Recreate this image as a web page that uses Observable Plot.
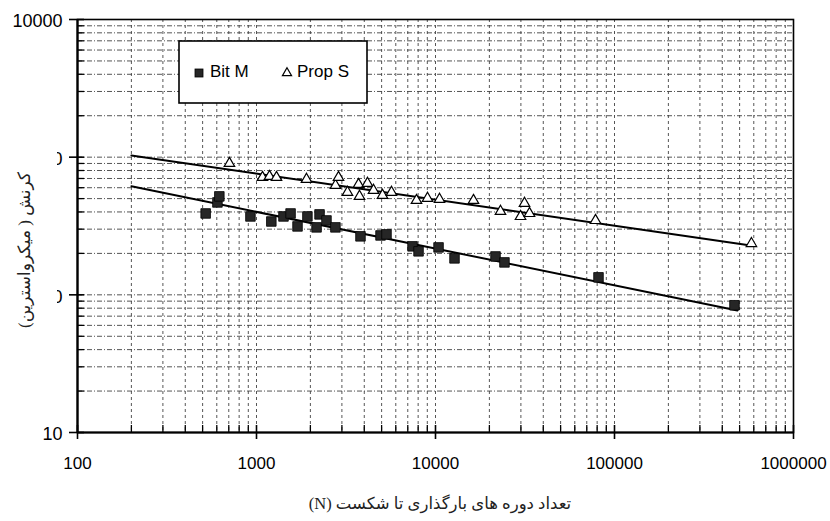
<!DOCTYPE html>
<html><head><meta charset="utf-8">
<script src="https://cdn.jsdelivr.net/npm/d3@7"></script>
<script src="https://cdn.jsdelivr.net/npm/@observablehq/plot@0.6"></script>
<style>
body{margin:0;background:#fff;}
#chart{position:relative;width:830px;height:521px;}
</style></head><body><div id="chart"></div>
<script>
// ---- data ----
const seriesNames = ["Bit M", "Prop S"];
const bitM_N = [520, 605, 620, 925, 1210, 1415, 1550, 1695, 1925, 2165, 2250, 2460, 2760, 3810, 4930, 5325, 7440, 8040, 10400, 12770, 21640, 24280, 81400, 468000];
const bitM_strain = [390, 469, 519, 371, 341, 371, 390, 314, 371, 309, 384, 347, 309, 266, 270, 275, 225, 207, 221, 184, 190, 172, 134, 84];
const propS_N = [706, 1080, 1182, 1293, 1902, 2762, 2871, 3223, 3715, 3762, 4169, 4505, 5058, 5677, 7830, 9023, 10530, 16300, 23070, 29850, 31420, 33500, 78300, 582000];
const propS_strain = [901, 713, 725, 713, 690, 624, 713, 555, 634, 519, 645, 574, 528, 555, 485, 502, 494, 485, 404, 371, 462, 390, 347, 236];
const bitM_fitN = [200, 486000];
const bitM_fitStrain = [615, 77];
const propS_fitN = [200, 590000];
const propS_fitStrain = [1030, 227];
const xTicks = [100, 1000, 10000, 100000, 1000000];
const xTickLabels = ["100", "1000", "10000", "100000", "1000000"];
const yTicks = [10, 100, 1000, 10000];
const yTickLabels = ["10", "100", "1000", "10000"];
const xLabel = "تعداد دوره های بارگذاری تا شکست (N)";
const yLabel = "کرنش ( میکرواسترین)";

// ---- derived tables ----
const bitM = bitM_N.map((n, i) => ({n, s: bitM_strain[i]}));
const propS = propS_N.map((n, i) => ({n, s: propS_strain[i]}));
const bitMFit = bitM_fitN.map((n, i) => ({n, s: bitM_fitStrain[i]}));
const propSFit = propS_fitN.map((n, i) => ({n, s: propS_fitStrain[i]}));
const subs = [2,3,4,5,6,7,8,9];
const xMinor = xTicks.slice(0, -1).flatMap(d => subs.map(k => d * k));
const yMinor = yTicks.slice(0, -1).flatMap(d => subs.map(k => d * k));
const xGrid = xMinor.concat(xTicks.slice(1, -1));
const yGrid = yMinor.concat(yTicks.slice(1, -1));

const sans = "'Liberation Sans', Arial, sans-serif";
const persian = "'Liberation Serif', 'DejaVu Sans', serif";

const chart = Plot.plot({
  width: 830, height: 521,
  marginTop: 19, marginLeft: 77, marginRight: 37, marginBottom: 89,
  x: {type: "log", domain: [100, 1000000], axis: null},
  y: {type: "log", domain: [10, 10000], axis: null},
  style: {fontFamily: sans, background: "white", color: "black"},
  marks: [
    Plot.ruleX(xGrid, {x: d => d, stroke: "#444", strokeOpacity: 0.9, strokeWidth: 1, strokeDasharray: "3,3"}),
    Plot.ruleY(yGrid, {y: d => d, stroke: "#444", strokeOpacity: 0.9, strokeWidth: 1, strokeDasharray: "5,2,1,2"}),
    Plot.frame({stroke: "black", strokeWidth: 1.6}),
    Plot.ruleX([100], {x: d => d, stroke: "black", strokeWidth: 2.2}),
    Plot.ruleY([10], {y: d => d, stroke: "black", strokeWidth: 2.2}),
    // minor ticks pointing inward
    Plot.ruleX(xMinor, {x: d => d, y1: 10, y2: 10, insetTop: -7, insetBottom: 0, stroke: "black", strokeWidth: 1.3}),
    Plot.ruleY(yMinor, {y: d => d, x1: 100, x2: 100, insetLeft: 0, insetRight: -7, stroke: "black", strokeWidth: 1.3}),
    // major ticks crossing the axis
    Plot.ruleX(xTicks, {x: d => d, y1: 10, y2: 10, insetTop: -7, insetBottom: -7, stroke: "black", strokeWidth: 1.6}),
    Plot.ruleY(yTicks, {y: d => d, x1: 100, x2: 100, insetLeft: -8, insetRight: -7, stroke: "black", strokeWidth: 1.6}),
    // fitted lines
    Plot.line(bitMFit, {x: "n", y: "s", stroke: "black", strokeWidth: 2}),
    Plot.line(propSFit, {x: "n", y: "s", stroke: "black", strokeWidth: 2}),
    // points
    Plot.dot(bitM, {x: "n", y: "s", symbol: "square", r: 5.4, fill: "#262626", stroke: "black", strokeWidth: 0.8}),
    Plot.dot(propS, {x: "n", y: "s", symbol: "triangle", r: 3.9, fill: "white", stroke: "black", strokeWidth: 1.2}),
    // tick labels
    Plot.text(xTicks, {x: d => d, y: 10, text: (d, i) => xTickLabels[i], dy: 31, fontSize: 17, fill: "black"}),
    Plot.text(yTicks, {x: 100, y: d => d, text: (d, i) => yTickLabels[i], dx: -15, dy: 2, textAnchor: "end", fontSize: 18, fill: "black"})
  ]
});
document.getElementById("chart").appendChild(chart);

// ---- overlays: y title box, axis titles, legend ----
const svg = d3.select(chart);
svg.append("rect").attr("x", 0).attr("y", 140).attr("width", 57).attr("height", 240).attr("fill", "white");
svg.append("text")
  .attr("transform", "translate(26,250) rotate(-90)")
  .attr("text-anchor", "middle").attr("dominant-baseline", "middle")
  .attr("font-family", persian).attr("font-size", 17)
  .attr("fill", "#222").attr("direction", "rtl")
  .text(yLabel);
svg.append("text")
  .attr("x", 440).attr("y", 505)
  .attr("text-anchor", "middle").attr("dominant-baseline", "middle")
  .attr("font-family", persian).attr("font-size", 16.5)
  .attr("fill", "#222").attr("direction", "rtl")
  .text(xLabel);

const lg = svg.append("g").attr("text-anchor", "start");
lg.append("rect").attr("x", 179).attr("y", 41).attr("width", 188).attr("height", 62)
  .attr("fill", "white").attr("stroke", "black").attr("stroke-width", 1.6);
lg.append("rect").attr("x", 195).attr("y", 69).attr("width", 8).attr("height", 8)
  .attr("fill", "#262626").attr("stroke", "black").attr("stroke-width", 0.8);
lg.append("text").attr("x", 210).attr("y", 73).attr("dominant-baseline", "middle").attr("text-anchor", "start")
  .attr("font-family", sans).attr("font-size", 17).attr("fill", "black").text(seriesNames[0]);
lg.append("path").attr("d", d3.symbol(d3.symbolTriangle, 36)()).attr("transform", "translate(287,73)")
  .attr("fill", "white").attr("stroke", "black").attr("stroke-width", 1.2);
lg.append("text").attr("x", 297).attr("y", 73).attr("dominant-baseline", "middle").attr("text-anchor", "start")
  .attr("font-family", sans).attr("font-size", 17).attr("fill", "black").text(seriesNames[1]);
</script>
</body></html>
